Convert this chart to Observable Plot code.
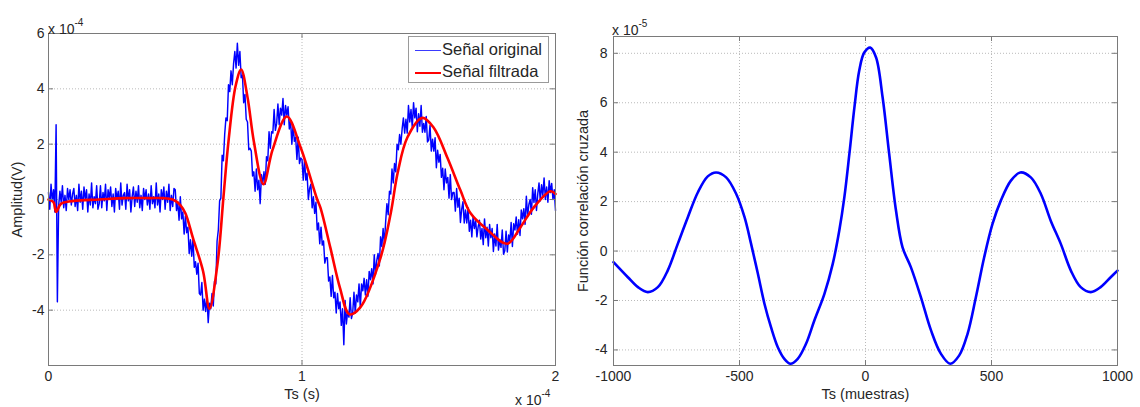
<!DOCTYPE html>
<html><head><meta charset="utf-8">
<script src="https://cdn.jsdelivr.net/npm/d3@7"></script>
<script src="https://cdn.jsdelivr.net/npm/@observablehq/plot@0.6"></script>
<style>
body{margin:0;background:#fff;font-family:"Liberation Sans",Arial,sans-serif;color:#262626;}
#wrap{position:relative;width:1140px;height:407px;overflow:hidden;}
.panel{position:absolute;top:0;}
.exp{position:absolute;font-size:14px;line-height:14px;white-space:nowrap;color:#262626;}
.exp sup{font-size:10px;position:relative;top:-2px;}
#legend{position:absolute;left:408px;top:36px;width:139px;height:45px;border:1px solid #9a9a9a;background:#fff;font-size:16.5px;}
#legend .row{position:absolute;left:6px;height:18px;line-height:18px;white-space:nowrap;}
#legend .sw{display:inline-block;width:26px;vertical-align:middle;margin-right:1px;}
</style>
</head><body>
<div id="wrap">
  <div class="panel" id="left" style="left:0"></div>
  <div class="panel" id="right" style="left:570px"></div>
  <div class="exp" style="left:48px;top:18px">x 10<sup>-4</sup></div>
  <div class="exp" style="left:612px;top:19px">x 10<sup>-5</sup></div>
  <div class="exp" style="left:515px;top:389px">x 10<sup>-4</sup></div>
  <div id="legend">
    <div class="row" style="top:3px"><span class="sw" style="border-top:1.5px solid #3a3aff"></span>Señal original</div>
    <div class="row" style="top:25px"><span class="sw" style="border-top:2.5px solid #ff0000"></span>Señal filtrada</div>
  </div>
</div>
<script>
// ---------- Left panel data (time in units of 1e-4 s, amplitude in units of 1e-4 V) ----------
const originalStart = 0;
const originalStep = 0.005;
const originalSignal = [
 // 0.000 - 0.495
 0.25,-0.35,0.55,-0.05,0.35,-0.45,2.7,-3.7,-0.25,0.3,-0.1,0.5,-0.3,0.15,-0.4,0.4,0.0,0.35,-0.2,0.2,
 0.4,-0.25,0.15,-0.4,0.55,-0.1,0.3,-0.35,0.45,0.0,0.35,-0.45,0.2,-0.2,0.6,-0.3,0.1,-0.15,0.5,-0.35,
 -0.15,0.5,-0.3,0.25,-0.05,0.55,-0.4,0.35,0.05,0.45,-0.25,0.2,-0.45,0.4,0.0,0.3,-0.35,0.6,-0.2,0.15,
 0.25,-0.35,0.55,-0.05,0.35,-0.45,0.1,0.45,-0.25,0.3,-0.1,0.5,-0.3,0.15,-0.4,0.4,0.0,0.35,-0.2,0.2,
 -0.35,0.5,-0.15,0.1,-0.3,0.6,-0.2,0.2,-0.45,0.35,0.0,0.45,-0.35,0.3,-0.1,0.55,-0.4,0.15,-0.25,0.4,
 // 0.500 - 0.995
 0.35,-0.4,-0.1,-0.75,0.1,-0.7,-0.45,-1.25,-0.6,-1.2,-1.0,-1.95,-1.45,-2.05,-1.4,-2.45,-2.25,-2.7,-2.3,-3.4,
 -3.45,-3.0,-4.0,-3.6,-4.05,-3.5,-4.45,-3.75,-3.95,-3.4,-3.85,-2.95,-3.05,-1.5,-1.1,-0.05,0.05,1.6,1.4,2.35,
 2.95,2.85,4.15,3.9,4.65,4.15,4.9,5.35,4.75,5.65,4.85,5.35,4.4,4.5,3.5,3.8,2.9,2.8,1.8,1.85,
 1.75,0.85,1.0,0.3,1.1,0.35,0.7,-0.15,0.9,0.55,1.0,0.55,1.55,1.4,2.45,1.85,2.45,2.4,3.25,2.5,
 2.75,3.45,2.7,3.3,3.05,3.65,2.7,3.4,3.05,3.35,2.55,2.85,2.0,2.7,2.1,2.25,1.45,2.25,1.3,1.5,
 // 1.000 - 1.495
 1.45,0.7,1.45,0.7,0.95,0.0,0.4,0.55,-0.3,0.1,-0.5,-0.1,-1.1,-0.85,-1.6,-1.0,-1.65,-1.5,-2.3,-2.1,
 -2.1,-2.95,-2.8,-3.5,-2.75,-3.55,-3.35,-4.1,-3.4,-3.95,-3.7,-4.55,-3.95,-5.25,-3.65,-4.5,-4.05,-4.25,-3.55,-4.3,
 -4.1,-3.35,-4.1,-3.45,-3.7,-3.05,-3.9,-3.05,-3.3,-2.85,-3.45,-2.9,-3.5,-2.6,-2.9,-2.5,-3.05,-2.0,-2.7,-2.2,
 -1.95,-2.4,-1.35,-1.7,-1.05,-1.6,-0.8,-0.15,-0.55,0.3,0.2,1.1,0.6,1.3,1.0,2.0,1.8,2.35,2.0,2.55,
 2.95,2.4,2.9,2.4,3.4,2.8,3.25,2.6,3.5,2.95,3.3,2.45,3.1,2.65,3.4,2.43,2.75,2.43,3.0,2.08,
 // 1.500 - 2.000
 2.15,2.68,1.75,2.18,1.75,2.23,1.15,1.78,1.35,1.63,0.8,1.13,0.35,1.1,0.6,0.8,0.05,0.9,0.0,0.25,
 0.25,-0.42,0.4,-0.28,0.05,-0.83,-0.35,-0.08,-0.85,-0.38,-0.85,-0.3,-1.15,-0.75,-1.35,-0.6,-1.05,-0.75,-1.35,-0.98,
 -0.75,-1.43,-1.05,-1.63,-0.7,-1.38,-1.0,-1.68,-0.9,-1.38,-1.05,-1.88,-1.25,-1.68,-0.9,-1.83,-1.45,-1.73,-1.1,-1.98,
 -1.85,-1.15,-1.9,-1.28,-1.5,-0.83,-1.7,-0.88,-1.1,-0.63,-1.25,-0.73,-1.3,-0.38,-0.7,-0.33,-0.9,0.12,-0.6,-0.18,
 0.0,-0.53,0.43,-0.11,0.35,-0.4,0.2,0.6,-0.05,0.53,0.15,0.78,0.0,0.45,-0.1,0.68,0.25,0.58,0.0,0.35,
 -0.4
];
const filteredTime = [0,0.02,0.03,0.05,0.1,0.2,0.3,0.4,0.45,0.49,0.52,0.54,0.57,0.61,0.635,0.667,0.69,0.71,0.738,0.76,0.785,0.81,0.848,0.884,0.94,0.994,1.06,1.073,1.112,1.15,1.187,1.23,1.31,1.35,1.377,1.416,1.475,1.519,1.574,1.625,1.665,1.732,1.81,1.862,1.913,1.98,2.0];
const filteredValue = [0,-0.1,-0.45,-0.15,-0.05,0,0.05,0.05,0.05,0,-0.2,-0.5,-1.4,-2.6,-3.95,-2.3,0.07,2.1,4.1,4.7,3.7,2.1,0.55,1.8,3.0,1.9,0.0,-0.3,-1.75,-3.2,-4.15,-3.9,-2.1,-0.5,0.95,2.25,2.95,2.6,1.5,0.33,-0.5,-1.1,-1.6,-1.0,-0.3,0.3,0.2];
const leftXTicks = [0, 1, 2];
const leftYTicks = [-4, -2, 0, 2, 4, 6];

// ---------- Right panel data (lag in samples, correlation in units of 1e-5) ----------
const corrLag = [-1000,-943,-903,-864,-824,-785,-745,-705,-665,-626,-593,-553,-513,-480,-454,-427,-401,-375,-348,-322,-298,-269,-236,-203,-163,-130,-104,-84,-64,-44,-25,-5,19,42,68,94,121,147,180,220,260,299,336,372,405,438,471,504,537,577,614,656,696,735,775,815,854,894,933,973,1000];
const corrValue = [-0.45,-1.06,-1.46,-1.66,-1.46,-0.79,0.29,1.37,2.38,3.02,3.18,2.98,2.31,1.37,0.29,-0.92,-2.13,-3.08,-3.89,-4.36,-4.56,-4.36,-3.75,-2.81,-1.73,-0.52,0.83,2.17,3.93,5.81,7.29,8.03,8.23,7.83,6.21,3.93,1.64,0.15,-0.65,-1.87,-3.21,-4.15,-4.56,-4.22,-3.35,-1.87,-0.25,1.1,2.04,2.85,3.18,2.98,2.31,1.23,0.29,-0.79,-1.46,-1.66,-1.46,-1.06,-0.79];
const rightXTicks = [-1000, -500, 0, 500, 1000];
const rightYTicks = [-4, -2, 0, 2, 4, 6, 8];

// ---------- build tables ----------
const original = originalSignal.map((v, i) => ({t: originalStart + i * originalStep, v}));
const filtered = filteredTime.map((t, i) => ({t, v: filteredValue[i]}));
const corr = corrLag.map((lag, i) => ({lag, v: corrValue[i]}));

const gridStyle = {stroke: "#a8a8a8", strokeOpacity: 1, strokeWidth: 0.8, strokeDasharray: "1,2"};
const font = {fontFamily: "'Liberation Sans', Arial, sans-serif", fontSize: "14px", color: "#262626", background: "#fff", overflow: "visible"};
const minus = d => d < 0 ? "-" + Math.abs(d) : String(d);

function inwardTicks(xTicks, yTicks, xd, yd, w, h) {
  const ty = (yd[1] - yd[0]) * 5 / h;
  const tx = (xd[1] - xd[0]) * 5 / w;
  const s = {stroke: "#7a7a7a", strokeWidth: 1};
  return [
    Plot.ruleX(xTicks, {x: d => d, y1: yd[0], y2: yd[0] + ty, ...s}),
    Plot.ruleX(xTicks, {x: d => d, y1: yd[1], y2: yd[1] - ty, ...s}),
    Plot.ruleY(yTicks, {y: d => d, x1: xd[0], x2: xd[0] + tx, ...s}),
    Plot.ruleY(yTicks, {y: d => d, x1: xd[1], x2: xd[1] - tx, ...s})
  ];
}

// Left chart
{
  const W = 570, H = 407, mL = 48, mR = 15, mT = 33, mB = 42;
  const xd = [0, 2], yd = [-6, 6];
  const chart = Plot.plot({
    width: W, height: H, marginLeft: mL, marginRight: mR, marginTop: mT, marginBottom: mB,
    style: font,
    x: {domain: xd},
    y: {domain: yd},
    marks: [
      Plot.gridX(leftXTicks, gridStyle),
      Plot.gridY(leftYTicks, gridStyle),
      Plot.line(original, {x: "t", y: "v", stroke: "#0000ff", strokeWidth: 1.45}),
      Plot.line(filtered, {x: "t", y: "v", stroke: "#ff0000", strokeWidth: 2.6, curve: "catmull-rom"}),
      ...inwardTicks(leftXTicks, leftYTicks, xd, yd, W - mL - mR, H - mT - mB),
      Plot.frame({stroke: "#7a7a7a", strokeWidth: 1}),
      Plot.axisX(leftXTicks, {tickSize: 0, tickPadding: 6, label: null, fontSize: 14, tickFormat: minus}),
      Plot.axisY(leftYTicks, {tickSize: 0, tickPadding: 4, label: null, fontSize: 14, tickFormat: minus}),
      Plot.text(["Ts (s)"], {frameAnchor: "bottom", lineAnchor: "middle", dy: 29, fontSize: 14.5, fill: "#262626"}),
      Plot.text(["Amplitud(V)"], {frameAnchor: "left", textAnchor: "middle", lineAnchor: "middle", dx: -31, rotate: -90, fontSize: 14.5, fill: "#262626"})
    ]
  });
  document.getElementById("left").appendChild(chart);
}

// Right chart
{
  const W = 570, H = 407, mL = 43, mR = 23, mT = 36, mB = 42;
  const xd = [-1000, 1000], yd = [-4.63, 8.68];
  const chart = Plot.plot({
    width: W, height: H, marginLeft: mL, marginRight: mR, marginTop: mT, marginBottom: mB,
    style: font,
    x: {domain: xd},
    y: {domain: yd},
    marks: [
      Plot.gridX(rightXTicks, gridStyle),
      Plot.gridY(rightYTicks, gridStyle),
      Plot.line(corr, {x: "lag", y: "v", stroke: "#0000ff", strokeWidth: 2.6, curve: "catmull-rom"}),
      ...inwardTicks(rightXTicks, rightYTicks, xd, yd, W - mL - mR, H - mT - mB),
      Plot.frame({stroke: "#7a7a7a", strokeWidth: 1}),
      Plot.axisX(rightXTicks, {tickSize: 0, tickPadding: 6, label: null, fontSize: 14, tickFormat: minus}),
      Plot.axisY(rightYTicks, {tickSize: 0, tickPadding: 6, label: null, fontSize: 14, tickFormat: minus}),
      Plot.text(["Ts (muestras)"], {frameAnchor: "bottom", lineAnchor: "middle", dy: 29, fontSize: 14.5, fill: "#262626"}),
      Plot.text(["Función correlación cruzada"], {frameAnchor: "left", textAnchor: "middle", lineAnchor: "middle", dx: -30, rotate: -90, fontSize: 14.5, fill: "#262626"})
    ]
  });
  document.getElementById("right").appendChild(chart);
}
</script>
</body></html>
